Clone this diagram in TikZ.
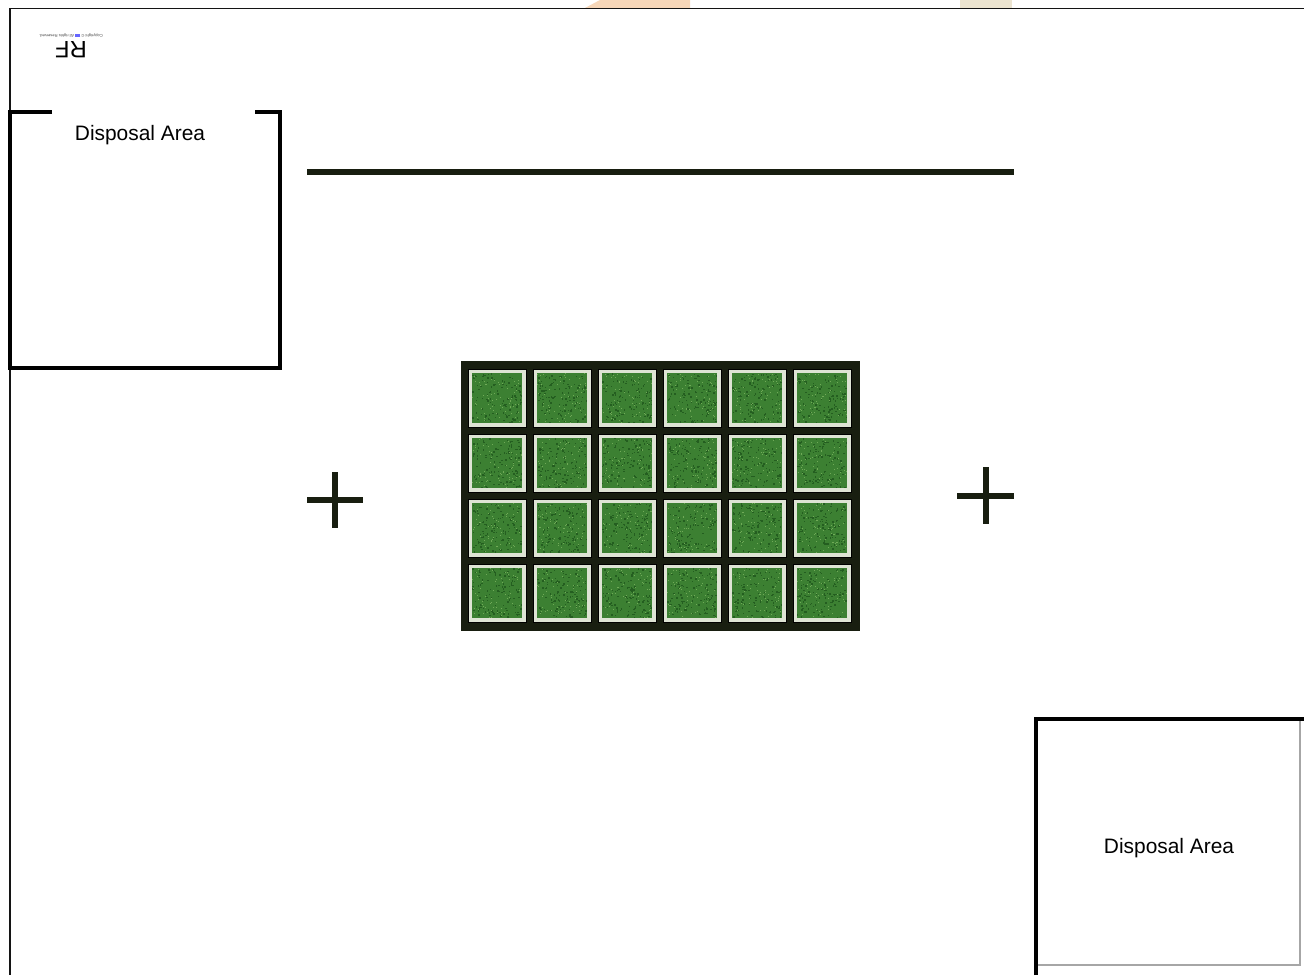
\documentclass[tikz,border=0pt]{standalone}
\usepackage{fontspec}
\setmainfont{Liberation Sans}
\usepackage{tikz}
\usetikzlibrary{calc}
\definecolor{framegray}{RGB}{20,20,20}
\definecolor{turfdark}{RGB}{24,30,16}
\definecolor{turfgreen}{RGB}{60,128,50}
\definecolor{turfshade}{RGB}{36,94,32}
\definecolor{turflight}{RGB}{112,170,88}
\definecolor{turfedge}{RGB}{222,228,212}
\definecolor{logoorange}{RGB}{246,214,184}
\definecolor{logobeige}{RGB}{236,228,208}
\tikzset{
  border/.style={framegray,line width=0.85pt},
  area/.style={black,line width=2.8pt},
  areathin/.style={black!35,line width=0.6pt},
  bar/.style={turfdark,line width=3pt},
  crossmark/.style={turfdark,line width=3pt},
  areatext/.style={font=\fontsize{11.9}{14}\selectfont,inner sep=0pt},
  tile/.style={draw=black,line width=0.4pt,fill=turfedge},
}

\begin{document}
\begin{tikzpicture}[x=0.02cm,y=-0.02cm]
  \path[use as bounding box] (0,0) rectangle (1304,975);
  \fill[white] (0,0) rectangle (1304,975);

  % clipped logo above the frame
  \fill[logoorange] (600,0) -- (690,0) -- (690,8) -- (585,8) -- cycle;
  \fill[logobeige] (960,0) rectangle (1012,8);

  % page frame
  \draw[border] (1304,8.5) -- (10,8.5) -- (10,975);

  % watermark, upside down
  \node[rotate=180,font=\fontsize{13.5}{15}\selectfont,inner sep=0pt] (rf) at (71,50) {RF};
  \node[rotate=180,font=\fontsize{2.3}{2.5}\selectfont,inner sep=0pt,text=black!70] (copy) at (71,35.5)
    {Copyright \textcopyright\ \textcolor{blue!60}{\rule{2.8pt}{1.3pt}} All rights Reserved.};

  % disposal areas
  \draw[area] (52,112) -- (10,112) -- (10,368) -- (280,368) -- (280,112) -- (255,112);
  \node[areatext] (dispA) at (140,135) {Disposal Area};

  \draw[areathin] (1036,965) -- (1300,965) -- (1300,719);
  \draw[area] (1036,975) -- (1036,719) -- (1304,719);
  \node[areatext] (dispB) at (1169,848) {Disposal Area};

  % bar
  \draw[bar] (307,172) -- (1014,172);

  % crosses
  \draw[crossmark] (307,500) -- (363,500) (335,472) -- (335,528);
  \draw[crossmark] (957,496) -- (1014,496) (986,467) -- (986,524);

  % turf grid
  \fill[turfdark] (461,361) rectangle (860,631);
  \pgfmathsetseed{4711}
  \foreach \i in {0,...,5}{
    \foreach \j in {0,...,3}{
      \coordinate (c) at (468+65*\i,369+65*\j);
      \draw[tile] (c) rectangle ++(58,58);
      \fill[turfgreen] ($(c)+(4,4)$) rectangle ++(50,50);
      \foreach \k in {1,...,120}{
        \pgfmathsetmacro{\dx}{4+49*rnd}
        \pgfmathsetmacro{\dy}{4+49*rnd}
        \fill[turfshade] ($(c)+(\dx,\dy)$) rectangle ++(1.4,1.4);
      }
      \foreach \k in {1,...,60}{
        \pgfmathsetmacro{\dx}{4+49*rnd}
        \pgfmathsetmacro{\dy}{4+49*rnd}
        \fill[turflight] ($(c)+(\dx,\dy)$) rectangle ++(1,1);
      }
    }
  }
\end{tikzpicture}
\end{document}
